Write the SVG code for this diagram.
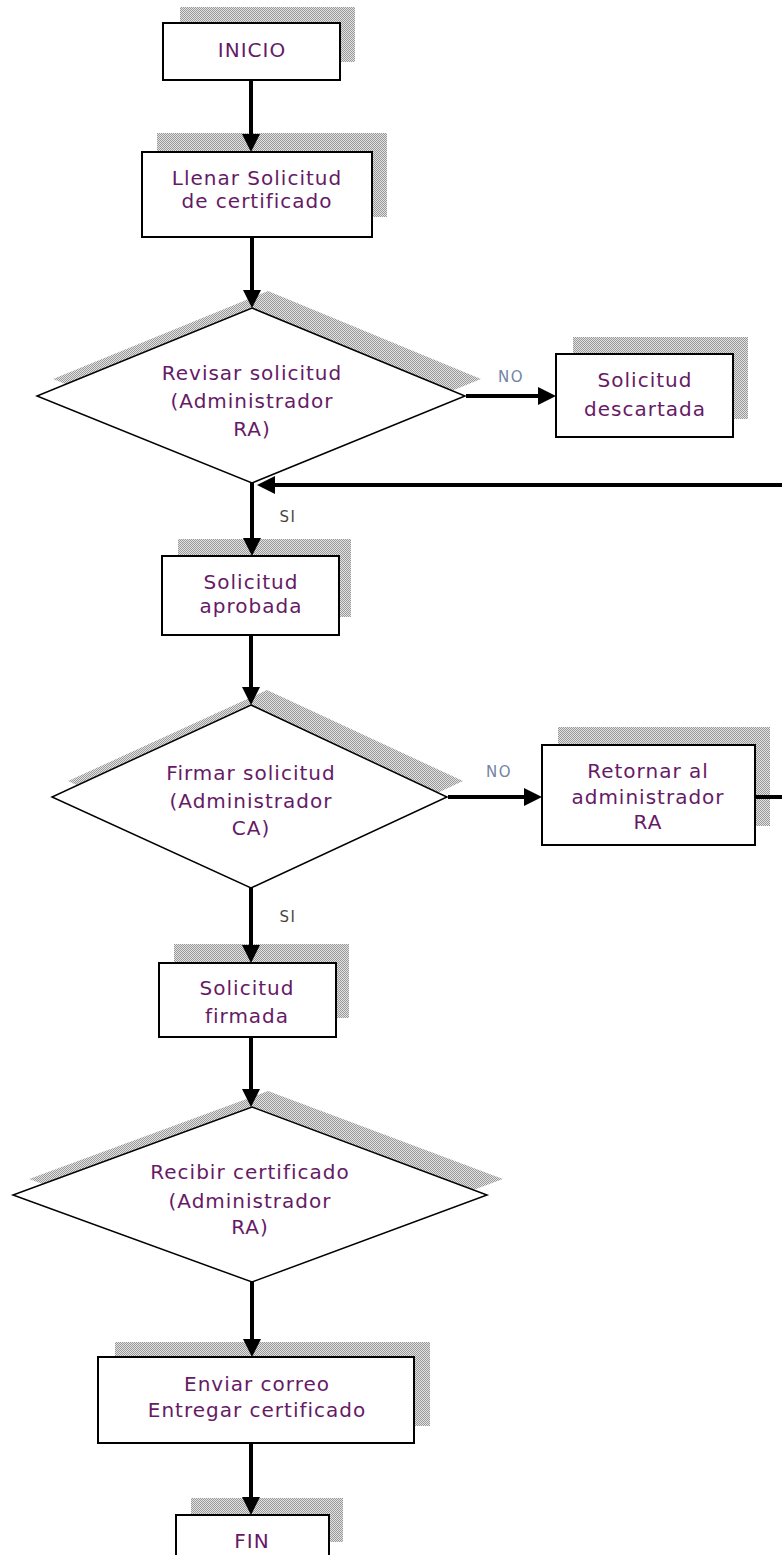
<svg xmlns="http://www.w3.org/2000/svg" width="782" height="1555" viewBox="0 0 782 1555">
<defs>
<pattern id="dither" width="2" height="2" patternUnits="userSpaceOnUse">
<rect width="2" height="2" fill="#e2e2e2"/>
<rect x="0" y="0" width="1" height="1" fill="#999999"/>
<rect x="1" y="1" width="1" height="1" fill="#999999"/>
</pattern>
<marker id="arrow" viewBox="0 0 18 18" refX="10" refY="9" markerWidth="18" markerHeight="18" markerUnits="userSpaceOnUse" orient="auto">
<path d="M0,0 L18,9 L0,18 Z" fill="#000"/>
</marker>
<style>
.shadow{fill:url(#dither);stroke:none}
.box{fill:#fff;stroke:#000;stroke-width:2}
.dia{fill:#fff;stroke:#000;stroke-width:1.5}
.t{font-family:"DejaVu Sans","Liberation Sans",sans-serif;font-size:20px;letter-spacing:1px;fill:#661a66;text-anchor:middle}
.lbl{font-family:"DejaVu Sans","Liberation Sans",sans-serif;font-size:15px;letter-spacing:1.5px;text-anchor:middle}
.no{fill:#7484a4}
.si{fill:#4a4440}
.c{fill:none;stroke:#000;stroke-width:4}
</style>
</defs>
<rect width="782" height="1555" fill="#fff"/>

<g id="inicio">
<rect class="shadow" x="180" y="7" width="175" height="55"/>
<rect class="box" x="163" y="23" width="177" height="57"/>
<text class="t" x="252" y="57">INICIO</text>
</g>

<g id="llenar">
<rect class="shadow" x="157" y="133" width="230" height="84"/>
<rect class="box" x="142" y="152" width="230" height="85"/>
<text class="t" x="257" y="185">Llenar Solicitud</text>
<text class="t" x="257" y="208">de certificado</text>
</g>

<g id="revisar">
<polygon class="shadow" points="268,291 481,379 268,466 53,379"/>
<polygon class="dia" points="252,308 465,396 252,483 37,396"/>
<text class="t" x="252" y="380">Revisar solicitud</text>
<text class="t" x="252" y="408">(Administrador</text>
<text class="t" x="252" y="436">RA)</text>
</g>

<g id="descartada">
<rect class="shadow" x="573" y="337" width="175" height="82"/>
<rect class="box" x="556" y="354" width="177" height="83"/>
<text class="t" x="645" y="387">Solicitud</text>
<text class="t" x="645" y="416">descartada</text>
</g>

<g id="aprobada">
<rect class="shadow" x="178" y="539" width="173" height="78"/>
<rect class="box" x="162" y="556" width="177" height="79"/>
<text class="t" x="251" y="589">Solicitud</text>
<text class="t" x="251" y="613">aprobada</text>
</g>

<g id="firmar">
<polygon class="shadow" points="267,690 463,781 267,873 68,781"/>
<polygon class="dia" points="251,705 447,797 251,888 52,797"/>
<text class="t" x="251" y="780">Firmar solicitud</text>
<text class="t" x="251" y="808">(Administrador</text>
<text class="t" x="251" y="835">CA)</text>
</g>

<g id="retornar">
<rect class="shadow" x="558" y="727" width="212" height="99"/>
<rect class="box" x="542" y="745" width="213" height="100"/>
<text class="t" x="648" y="778">Retornar al</text>
<text class="t" x="648" y="804">administrador</text>
<text class="t" x="648" y="829">RA</text>
</g>

<g id="firmada">
<rect class="shadow" x="174" y="944" width="175" height="74"/>
<rect class="box" x="159" y="963" width="177" height="74"/>
<text class="t" x="247" y="995">Solicitud</text>
<text class="t" x="247" y="1023">firmada</text>
</g>

<g id="recibir">
<polygon class="shadow" points="268,1091 503,1179 268,1266 29,1179"/>
<polygon class="dia" points="252,1107 487,1195 252,1282 13,1195"/>
<text class="t" x="250" y="1179">Recibir certificado</text>
<text class="t" x="250" y="1208">(Administrador</text>
<text class="t" x="250" y="1234">RA)</text>
</g>

<g id="enviar">
<rect class="shadow" x="115" y="1342" width="315" height="84"/>
<rect class="box" x="98" y="1357" width="316" height="86"/>
<text class="t" x="257" y="1391">Enviar correo</text>
<text class="t" x="257" y="1417">Entregar certificado</text>
</g>

<g id="fin">
<rect class="shadow" x="191" y="1498" width="152" height="44"/>
<rect class="box" x="176" y="1515" width="153" height="45"/>
<text class="t" x="252" y="1548">FIN</text>
</g>

<g id="connectors">
<path class="c" d="M251,81 V144" marker-end="url(#arrow)"/>
<path class="c" d="M252,238 V300" marker-end="url(#arrow)"/>
<path class="c" d="M466,396 H548" marker-end="url(#arrow)"/>
<path class="c" d="M252,483 V548" marker-end="url(#arrow)"/>
<path class="c" d="M756,797 H795 V485 H265" marker-end="url(#arrow)"/>
<path class="c" d="M251,636 V697" marker-end="url(#arrow)"/>
<path class="c" d="M448,797 H534" marker-end="url(#arrow)"/>
<path class="c" d="M251,888 V955" marker-end="url(#arrow)"/>
<path class="c" d="M251,1038 V1099" marker-end="url(#arrow)"/>
<path class="c" d="M252,1282 V1349" marker-end="url(#arrow)"/>
<path class="c" d="M251,1444 V1507" marker-end="url(#arrow)"/>
<text class="lbl no" x="511" y="382">NO</text>
<text class="lbl si" x="288" y="522">SI</text>
<text class="lbl no" x="499" y="777">NO</text>
<text class="lbl si" x="288" y="922">SI</text>
</g>
</svg>
